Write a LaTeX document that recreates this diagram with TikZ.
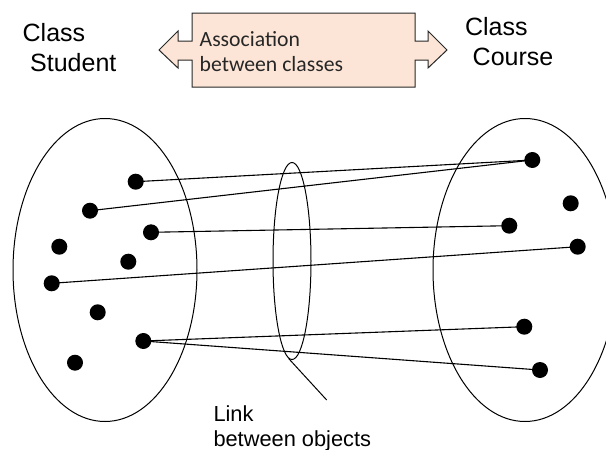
\documentclass[tikz,border=0pt]{standalone}
\usepackage{fontspec}
\setmainfont{Liberation Sans}
\newfontfamily\calib{Carlito}
\usetikzlibrary{shapes.geometric}
\definecolor{peach}{RGB}{252,229,214}
\definecolor{edge}{RGB}{40,40,40}
\tikzset{
  dot/.style={circle, fill=black, minimum size=16pt, inner sep=0pt},
  linkline/.style={draw=black, line width=1.1pt},
  setshape/.style={draw=black, ellipse, line width=1pt, inner sep=0pt},
  title/.style={anchor=base west, align=left, inner sep=0pt, font=\fontsize{25}{30}\selectfont},
  boxtext/.style={anchor=base west, align=left, inner sep=0pt, font=\calib\fontsize{21.7}{25}\selectfont, text=black!85},
  linktext/.style={anchor=base west, align=left, inner sep=0pt, font=\fontsize{21.8}{25}\selectfont},
}
\begin{document}
\begin{tikzpicture}[x=1pt,y=-1pt]
\clip (0,0) rectangle (606,450);
\fill[white] (0,0) rectangle (606,450);
% association callout
\draw[edge, fill=peach, line width=1pt, line join=miter]
  (192,13) -- (415,13) -- (415,41) -- (428,41) -- (428,31) -- (447,50) -- (428,68) -- (428,60)
  -- (415,60) -- (415,87) -- (192,87) -- (192,60) -- (178,60) -- (178,68) -- (159,50)
  -- (178,31) -- (178,41) -- (192,41) -- cycle;
\node[boxtext] (assoc) at (199.5,71.7) {Association\\between classes};
% titles
\node[title] (student) at (22.5,71.7) {Class\\\hspace*{7.5pt}Student};
\node[title] (course) at (464.8,65.5) {Class\\\hspace*{7.7pt}Course};
% sets
\node[setshape, minimum width=184pt, minimum height=303pt] (setA) at (105,270) {};
\node[setshape, minimum width=184pt, minimum height=303pt] (setB) at (525,270) {};
\node[setshape, minimum width=38pt, minimum height=197pt] (links) at (292,261) {};
% objects
\node[dot] (d1) at (135.7,181.7) {};
\node[dot] (d2) at (90,210.7) {};
\node[dot] (d3) at (151,232.3) {};
\node[dot] (d4) at (59.3,246.7) {};
\node[dot] (d5) at (128.3,261.7) {};
\node[dot] (d6) at (51.7,283.3) {};
\node[dot] (d7) at (97.7,312.3) {};
\node[dot] (d8) at (143.3,341) {};
\node[dot] (d9) at (75,362.7) {};
\node[dot] (r1) at (532.3,160) {};
\node[dot] (r2) at (570.7,203.3) {};
\node[dot] (r3) at (509.3,225.7) {};
\node[dot] (r4) at (577.7,246.7) {};
\node[dot] (r5) at (524.3,326.7) {};
\node[dot] (r6) at (540,370) {};
% links
\draw[linkline] (d1.center) -- (r1.center);
\draw[linkline] (d2.center) -- (r1.center);
\draw[linkline] (d3.center) -- (r3.center);
\draw[linkline] (d6.center) -- (r4.center);
\draw[linkline] (d8.center) -- (r5.center);
\draw[linkline] (d8.center) -- (r6.center);
% label
\coordinate (tail) at (326.7,400);
\draw[line width=1pt] (links.268) -- (tail);
\node[linktext] (lbl) at (213.3,446) {Link\\between objects};
\end{tikzpicture}
\end{document}
